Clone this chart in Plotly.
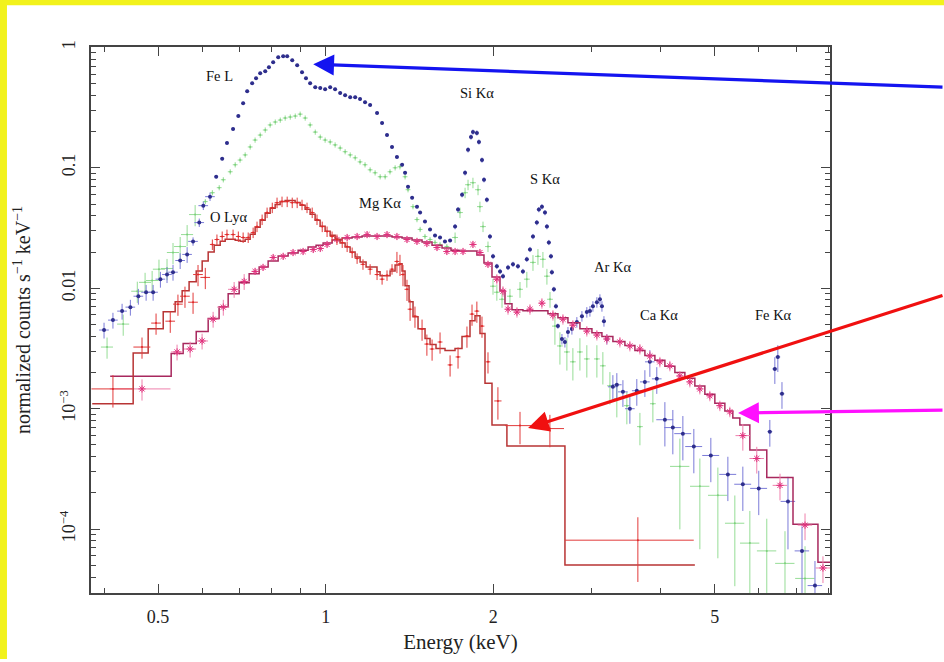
import math
import plotly.graph_objects as go

# ---------------- data (energy in keV, normalized counts s^-1 keV^-1) ----------------
blue_E = [0.400, 0.415, 0.431, 0.446, 0.461, 0.476, 0.490, 0.505, 0.519, 0.532,
          0.548, 0.564, 0.578, 0.593, 0.603, 0.620, 0.636, 0.652, 0.665, 0.682,
          0.697, 0.711, 0.723, 0.738, 0.750, 0.763, 0.779, 0.791, 0.805, 0.822,
          0.839, 0.853, 0.871, 0.889, 0.907, 0.922, 0.938, 0.958, 0.978, 0.998,
          1.019, 1.040, 1.062, 1.084, 1.107, 1.130, 1.153, 1.177, 1.202, 1.237,
          1.263, 1.289, 1.316, 1.343, 1.372, 1.389, 1.406, 1.430, 1.459, 1.478,
          1.508, 1.540, 1.572, 1.605, 1.638, 1.673, 1.708, 1.729, 1.758, 1.780,
          1.802, 1.824, 1.839, 1.869, 1.885, 1.909, 1.925, 1.948, 1.973, 1.998,
          2.030, 2.057, 2.082, 2.126, 2.170, 2.215, 2.261, 2.298, 2.328, 2.357,
          2.395, 2.415, 2.446, 2.477, 2.497, 2.517, 2.539, 2.549, 2.570, 2.592,
          2.613, 2.657, 2.690, 2.724, 2.769, 2.826, 2.886, 2.945, 2.983, 3.020,
          3.070, 3.109, 3.135, 3.161, 3.199, 3.280, 3.334, 3.419, 3.519, 3.621,
          3.744, 3.822, 3.933, 4.067, 4.203, 4.381, 4.584, 4.918, 5.277, 5.614,
          5.996, 6.277, 6.408, 6.488, 6.600, 6.766, 7.170, 7.565]
blue_v = [0.0045, 0.00544, 0.00646, 0.00697, 0.00859, 0.00927, 0.00927, 0.0119, 0.0130, 0.0136,
          0.0170, 0.0191, 0.0245, 0.0351, 0.0485, 0.0576, 0.0843, 0.119, 0.161, 0.210,
          0.269, 0.344, 0.433, 0.504, 0.554, 0.610, 0.634, 0.684, 0.752, 0.827,
          0.843, 0.843, 0.781, 0.710, 0.621, 0.554, 0.504, 0.467, 0.459, 0.450,
          0.467, 0.450, 0.417, 0.401, 0.386, 0.386, 0.372, 0.351, 0.332, 0.285,
          0.235, 0.187, 0.149, 0.123, 0.106, 0.0909, 0.0697, 0.0565, 0.0476, 0.0425,
          0.0358, 0.0308, 0.0274, 0.0264, 0.0245, 0.0249, 0.0325, 0.045, 0.0598, 0.0909,
          0.141, 0.180, 0.198, 0.195, 0.164, 0.116, 0.0796, 0.0544, 0.0269, 0.0184,
          0.0152, 0.0138, 0.0126, 0.0149, 0.0158, 0.0152, 0.0138, 0.0174, 0.0210, 0.0269,
          0.0351, 0.045, 0.0476, 0.0425, 0.0325, 0.0240, 0.0184, 0.0136, 0.0098, 0.0071,
          0.00485, 0.00379, 0.00358, 0.00433, 0.00458, 0.00524, 0.00587, 0.00634, 0.00646, 0.0071,
          0.00766, 0.0081, 0.0071, 0.00533, 0.00379, 0.00152, 0.00158, 0.00138, 0.0010, 0.00141,
          0.00167, 0.00245, 0.00177, 0.00081, 0.000697, 0.000621, 0.000485, 0.000409, 0.000285, 0.000236,
          0.000218, 0.000645, 0.00214, 0.00269, 0.00133, 0.000170, 6.6e-5, 3.4e-5]
blue_yerr_pct = [15]*12 + [8]*4 + [3]*50 + [5]*35 + [10]*14 + [25]*8 + [40]*8 + [25]*4 + [60]*3
blue_xerr_pct = [2]*16 + [0.8]*99 + [2]*8 + [3.5]*8 + [1]*4 + [3]*3

green_E = [0.405, 0.433, 0.459, 0.474, 0.488, 0.502, 0.519, 0.532, 0.548, 0.564,
           0.583, 0.608, 0.626, 0.644, 0.655, 0.674, 0.688, 0.702, 0.717, 0.732,
           0.747, 0.763, 0.779, 0.795, 0.812, 0.829, 0.846, 0.864, 0.882, 0.900,
           0.919, 0.938, 0.958, 0.978, 0.998, 1.019, 1.040, 1.062, 1.084, 1.107,
           1.130, 1.153, 1.177, 1.202, 1.227, 1.253, 1.279, 1.305, 1.333, 1.360,
           1.389, 1.406, 1.435, 1.459, 1.478, 1.508, 1.540, 1.572, 1.605, 1.651,
           1.708, 1.743, 1.780, 1.802, 1.839, 1.878, 1.893, 1.917, 1.957, 1.998,
           2.030, 2.074, 2.143, 2.234, 2.298, 2.357, 2.406, 2.456, 2.497, 2.529,
           2.581, 2.635, 2.712, 2.780, 2.862, 2.945, 3.070, 3.147, 3.240, 3.334,
           3.475, 3.668, 3.870, 4.327, 4.700, 5.063, 5.431, 5.779, 6.198, 6.683,
           7.260]
green_v = [0.00325, 0.00504, 0.00945, 0.0112, 0.0116, 0.0144, 0.0146, 0.0198, 0.0222, 0.0279,
           0.0409, 0.0524, 0.0621, 0.0684, 0.0796, 0.0927, 0.106, 0.116, 0.128, 0.149,
           0.170, 0.187, 0.206, 0.227, 0.240, 0.249, 0.259, 0.264, 0.269, 0.279,
           0.259, 0.227, 0.198, 0.180, 0.170, 0.164, 0.155, 0.146, 0.136, 0.128,
           0.121, 0.112, 0.106, 0.0962, 0.0909, 0.0843, 0.0843, 0.0927, 0.100, 0.102,
           0.0843, 0.0658, 0.0476, 0.0372, 0.0308, 0.0269, 0.0254, 0.0240, 0.0231, 0.0222,
           0.0264, 0.0425, 0.0621, 0.0724, 0.0752, 0.0658, 0.0476, 0.0325, 0.0222, 0.0104,
           0.00927, 0.0081, 0.00859, 0.0098, 0.0119, 0.0164, 0.0184, 0.0174, 0.0126, 0.0081,
           0.00485, 0.00332, 0.00296, 0.00245, 0.00296, 0.00259, 0.00259, 0.00227, 0.00155, 0.00121,
           0.00106, 0.00071, 0.0011, 0.000332, 0.000227, 0.000191, 0.000112, 7.66e-5, 6.6e-5, 5.2e-5,
           3.9e-5]
green_yerr_pct = [20]*11 + [5]*49 + [10]*9 + [15]*11 + [30]*13 + [70]*4 + [85]*4
green_xerr_pct = [2.5]*11 + [1]*49 + [1.2]*33 + [4]*8

red_E = [0.415, 0.468, 0.496, 0.526, 0.543, 0.559, 0.578, 0.590, 0.608, 0.626,
         0.638, 0.652, 0.665, 0.682, 0.697, 0.711, 0.726, 0.741, 0.753, 0.769,
         0.785, 0.802, 0.818, 0.835, 0.853, 0.871, 0.889, 0.907, 0.926, 0.946,
         0.965, 0.986, 1.006, 1.027, 1.048, 1.071, 1.093, 1.116, 1.139, 1.167,
         1.202, 1.237, 1.263, 1.289, 1.316, 1.343, 1.360, 1.377, 1.400, 1.418,
         1.447, 1.490, 1.520, 1.553, 1.605, 1.673, 1.729, 1.794, 1.832, 1.869,
         1.909, 1.957, 2.039, 2.234, 2.528, 3.637]
red_v = [0.00146, 0.00325, 0.00514, 0.00533, 0.00738, 0.00859, 0.00766, 0.0130, 0.0123, 0.0231,
         0.0254, 0.0269, 0.0279, 0.0279, 0.0269, 0.0264, 0.0264, 0.0290, 0.0325, 0.0372,
         0.0425, 0.0467, 0.0514, 0.0524, 0.0524, 0.0514, 0.0514, 0.0494, 0.0467, 0.0425,
         0.0372, 0.0325, 0.0296, 0.0269, 0.0254, 0.0240, 0.0222, 0.0198, 0.0177, 0.0158,
         0.0144, 0.0130, 0.0119, 0.0128, 0.0144, 0.0167, 0.0158, 0.0130, 0.0098, 0.0067,
         0.00587, 0.00458, 0.00344, 0.00313, 0.00358, 0.00231, 0.00269, 0.00401, 0.0061, 0.00646,
         0.00485, 0.00245, 0.00116, 0.000724, 0.000684, 8.1e-5]
red_yerr_pct = [30] + [20]*8 + [10]*36 + [20]*17 + [30]*3 + [55]
red_xerr_pct = [8.5] + [3.5] + [2]*7 + [1]*53 + [1.5] + [6]*2 + [26]

red_model_edges = [0.3809, 0.4512, 0.4801, 0.5109, 0.5368, 0.5525, 0.5686, 0.5856, 0.6002, 0.6153,
                   0.6307, 0.6466, 0.6601, 0.6739, 0.6880, 0.7023, 0.7170, 0.7319, 0.7472, 0.7628,
                   0.7787, 0.7950, 0.8116, 0.8285, 0.8458, 0.8635, 0.8815, 0.8999, 0.9187, 0.9379,
                   0.9575, 0.9775, 0.9979, 1.0188, 1.0401, 1.0617, 1.0839, 1.1065, 1.1296, 1.1532,
                   1.1821, 1.2367, 1.2525, 1.2787, 1.3054, 1.3327, 1.3548, 1.3717, 1.3888, 1.4120,
                   1.4354, 1.4654, 1.5085, 1.5399, 1.5784, 1.6384, 1.7076, 1.7576, 1.8167, 1.8547,
                   1.8933, 1.9329, 1.9896, 2.1162, 2.6903, 4.6036]
red_model_v = [0.0011, 0.0029, 0.00462, 0.00638, 0.00772, 0.00952, 0.0113, 0.0139, 0.0168, 0.020,
               0.0228, 0.0246, 0.0255, 0.0255, 0.0250, 0.0246, 0.0255, 0.0281, 0.0321, 0.0367,
               0.0419, 0.0461, 0.0497, 0.0526, 0.0536, 0.0536, 0.0516, 0.0488, 0.0452, 0.0411,
               0.0367, 0.0327, 0.0298, 0.0276, 0.0255, 0.0237, 0.022, 0.020, 0.0182, 0.0165,
               0.015, 0.0137, 0.0127, 0.0127, 0.0139, 0.0156, 0.0160, 0.0139, 0.0105, 0.00772,
               0.0058, 0.00462, 0.00383, 0.00341, 0.00316, 0.00305, 0.00316, 0.00397, 0.00538, 0.00592,
               0.00421, 0.00163, 0.000732, 0.000491, 5.03e-5]

mag_E = [0.468, 0.541, 0.571, 0.600, 0.628, 0.655, 0.685, 0.714, 0.747, 0.772,
         0.805, 0.839, 0.874, 0.911, 0.950, 0.978, 1.006, 1.048, 1.093, 1.139,
         1.187, 1.237, 1.289, 1.343, 1.400, 1.459, 1.520, 1.585, 1.651, 1.708,
         1.765, 1.839, 1.893, 1.957, 2.030, 2.082, 2.126, 2.206, 2.328, 2.446,
         2.560, 2.668, 2.780, 2.945, 3.070, 3.199, 3.377, 3.519, 3.668, 3.822,
         3.984, 4.152, 4.327, 4.510, 4.700, 4.898, 5.105, 5.320, 5.614, 5.947,
         6.546, 7.260, 7.819]
mag_v = [0.00146, 0.00296, 0.00313, 0.00365, 0.00554, 0.00697, 0.0098, 0.0114, 0.0138, 0.0149,
         0.018, 0.0184, 0.0198, 0.0202, 0.021, 0.0214, 0.0231, 0.0254, 0.0264, 0.0269,
         0.0279, 0.0269, 0.0279, 0.0269, 0.0254, 0.0245, 0.0235, 0.0218, 0.0202, 0.0202,
         0.0202, 0.0231, 0.0198, 0.0158, 0.0119, 0.00945, 0.0067, 0.00634, 0.0067, 0.00752,
         0.00598, 0.00554, 0.00494, 0.00441, 0.00409, 0.00379, 0.00358, 0.00332, 0.00313, 0.00274,
         0.00245, 0.00227, 0.00187, 0.00167, 0.00146, 0.00128, 0.00106, 0.000944, 0.000598, 0.000386,
         0.000231, 0.000108, 4.76e-5]
mag_yerr_pct = [20] + [15]*7 + [6]*26 + [10]*24 + [25]*5
mag_xerr_pct = [12.5] + [2.5]*7 + [1.2]*50 + [3]*5

mag_model_edges = [0.4103, 0.5280, 0.5548, 0.5856, 0.6153, 0.6437, 0.6683, 0.6994, 0.7289, 0.7597,
                   0.7884, 0.8217, 0.8563, 0.8925, 0.9301, 0.9613, 0.9896, 1.0273, 1.0705, 1.1157,
                   1.1628, 1.2118, 1.2629, 1.3162, 1.3717, 1.4296, 1.4899, 1.5527, 1.6182, 1.6795,
                   1.7360, 1.8017, 1.8694, 1.9247, 1.9896, 2.0565, 2.0995, 2.1611, 2.2614, 2.3861,
                   2.5077, 2.6135, 2.7238, 2.8623, 3.0078, 3.1347, 3.2802, 3.4473, 3.5928, 3.7444,
                   3.9023, 4.0670, 4.2386, 4.4174, 4.6036, 4.7980, 5.0004, 5.2117, 5.386, 5.545,
                   5.779, 6.198, 6.908, 7.659, 8.117]
mag_model_v = [0.00186, 0.00288, 0.00348, 0.00437, 0.0056, 0.00703, 0.009, 0.0111, 0.0132, 0.0150,
               0.0168, 0.0185, 0.0196, 0.0207, 0.022, 0.0228, 0.0237, 0.0251, 0.0261, 0.0266,
               0.0271, 0.0271, 0.0271, 0.0266, 0.0261, 0.0251, 0.0242, 0.0228, 0.0216, 0.0207,
               0.0204, 0.0204, 0.0189, 0.0162, 0.0124, 0.00952, 0.00744, 0.00663, 0.00651, 0.00651,
               0.00615, 0.0057, 0.00518, 0.00462, 0.00428, 0.00397, 0.00361, 0.00335, 0.00305, 0.00277,
               0.00252, 0.00225, 0.0020, 0.00179, 0.00154, 0.00132, 0.00111, 0.000955, 0.000836, 0.000732,
               0.000455, 0.000268, 0.00011, 5.32e-5]

# line identifications: (label, energy keV, height)
line_labels = ["Fe L", "O Lyα", "Mg Kα", "Si Kα", "S Kα", "Ar Kα", "Ca Kα", "Fe Kα"]
line_E = [0.646, 0.668, 1.253, 1.871, 2.478, 3.28, 3.97, 6.36]
line_y = [0.576, 0.0388, 0.0507, 0.417, 0.080, 0.0150, 0.00604, 0.00604]

# arrows: head position (keV, value)
arrow_E = [0.950, 2.31, 5.505]
arrow_y = [0.724, 0.000692, 0.00092]

x_tick_vals = [0.5, 1, 2, 5]
x_tick_text = ["0.5", "1", "2", "5"]
x_minor_vals = [0.4, 0.6, 0.7, 0.8, 0.9, 3, 4, 6, 7, 8]
y_tick_vals = [1e-4, 1e-3, 1e-2, 1e-1, 1]
y_tick_text = ["10<sup>−4</sup>", "10<sup>−3</sup>", "0.01", "0.1", "1"]

# ---------------- figure ----------------
SERIF = "Liberation Serif, Times New Roman, serif"


def errs(vals, pct):
    n = min(len(vals), len(pct))
    return [vals[i] * pct[i] / 100.0 for i in range(n)] + [0] * (len(vals) - n)


def steps(edges, vals):
    return list(edges), list(vals) + [vals[-1]]


fig = go.Figure()

# green spectrum
fig.add_trace(go.Scatter(
    x=green_E, y=green_v, mode="markers",
    marker=dict(size=2, color="#7ccf7c"),
    error_y=dict(type="data", array=errs(green_v, green_yerr_pct), color="#96dd96", thickness=1, width=0),
    error_x=dict(type="data", array=errs(green_E, green_xerr_pct), color="#96dd96", thickness=1, width=0),
    showlegend=False))

# blue spectrum
fig.add_trace(go.Scatter(
    x=blue_E, y=blue_v, mode="markers",
    marker=dict(size=4, color="#2e2e8c"),
    error_y=dict(type="data", array=errs(blue_v, blue_yerr_pct), color="#7b7bd8", thickness=1, width=0),
    error_x=dict(type="data", array=errs(blue_E, blue_xerr_pct), color="#7b7bd8", thickness=1, width=0),
    showlegend=False))

# magenta model + data
mx, my = steps(mag_model_edges, mag_model_v)
fig.add_trace(go.Scatter(x=mx, y=my, mode="lines", line=dict(color="#a8285e", width=1.5, shape="hv"),
                         showlegend=False))
fig.add_trace(go.Scatter(
    x=mag_E, y=mag_v, mode="markers",
    marker=dict(size=6, symbol="asterisk-open", color="#e0307c", line=dict(width=1, color="#e0307c")),
    error_y=dict(type="data", array=errs(mag_v, mag_yerr_pct), color="#ef80ad", thickness=1, width=0),
    error_x=dict(type="data", array=errs(mag_E, mag_xerr_pct), color="#ef80ad", thickness=1, width=0),
    showlegend=False))

# red model + data
rx, ry = steps(red_model_edges, red_model_v)
fig.add_trace(go.Scatter(x=rx, y=ry, mode="lines", line=dict(color="#b83434", width=1.5, shape="hv"),
                         showlegend=False))
fig.add_trace(go.Scatter(
    x=red_E, y=red_v, mode="markers",
    marker=dict(size=2, color="#e02828"),
    error_y=dict(type="data", array=errs(red_v, red_yerr_pct), color="#e23a3a", thickness=1, width=0),
    error_x=dict(type="data", array=errs(red_E, red_xerr_pct), color="#e23a3a", thickness=1, width=0),
    showlegend=False))

annotations = []
for lab, e, v in zip(line_labels, line_E, line_y):
    annotations.append(dict(x=math.log10(e), y=math.log10(v), xref="x", yref="y", text=lab,
                            showarrow=False, font=dict(family=SERIF, size=14.5, color="#111")))

arrow_colors = ["#1414f0", "#f01010", "#ff10ff"]
arrow_offsets = [(631, 23), (416, -133), (206, -3)]
for e, v, c, (ax, ay) in zip(arrow_E, arrow_y, arrow_colors, arrow_offsets):
    annotations.append(dict(x=math.log10(e), y=math.log10(v), xref="x", yref="y", text="",
                            showarrow=True, arrowhead=2, arrowsize=1.3, arrowwidth=3.2,
                            arrowcolor=c, ax=ax, ay=ay, standoff=0))

y_minor = [m * 10.0 ** d for d in range(-5, 1) for m in range(2, 10)]

axis_common = dict(showline=True, linecolor="#444", linewidth=1.5, mirror="ticks",
                   ticks="inside", ticklen=9, tickwidth=1, tickcolor="#444",
                   showgrid=False, zeroline=False,
                   tickfont=dict(family=SERIF, size=18, color="#222"))

fig.update_layout(
    width=944, height=662,
    margin=dict(l=91, r=114, t=47, b=66, pad=0),
    paper_bgcolor="white", plot_bgcolor="white",
    xaxis=dict(type="log", range=[math.log10(0.379), math.log10(8.05)],
               tickmode="array", tickvals=x_tick_vals, ticktext=x_tick_text,
               minor=dict(tickmode="array", tickvals=x_minor_vals, ticks="inside", ticklen=5,
                          tickcolor="#444", showgrid=False),
               ticklabelstandoff=7,
               title=dict(text="Energy (keV)", font=dict(family=SERIF, size=21, color="#222"), standoff=8),
               **axis_common),
    yaxis=dict(type="log", range=[-4.53, 0.003],
               tickmode="array", tickvals=y_tick_vals, ticktext=y_tick_text, tickangle=-90,
               minor=dict(tickmode="array", tickvals=y_minor, ticks="inside", ticklen=5,
                          tickcolor="#444", showgrid=False),
               ticklabelstandoff=7,
               title=dict(text="normalized counts s<sup>−1</sup> keV<sup>−1</sup>",
                          font=dict(family=SERIF, size=20, color="#222"), standoff=20),
               **axis_common),
    annotations=annotations,
    shapes=[
        dict(type="rect", xref="paper", yref="paper", x0=-0.1232, x1=-0.1137, y0=-0.121, y1=1.086,
             fillcolor="#f2f21c", line=dict(width=0), layer="above"),
        dict(type="rect", xref="paper", yref="paper", x0=-0.1232, x1=1.155, y0=1.0765, y1=1.086,
             fillcolor="#f2f21c", line=dict(width=0), layer="above"),
    ],
)

fig.write_html("out.html")
